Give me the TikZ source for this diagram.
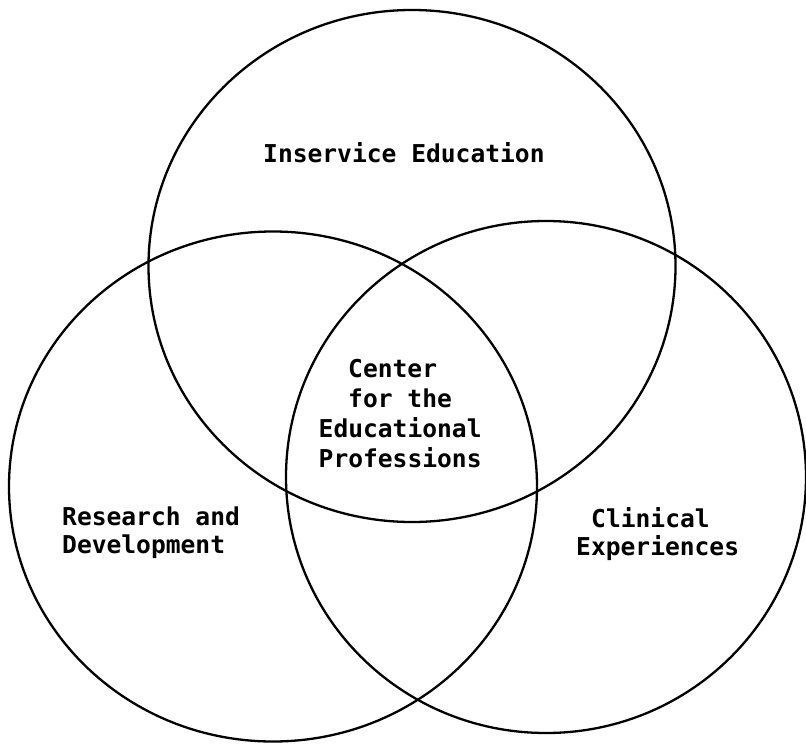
\documentclass[tikz,border=0pt]{standalone}
\usepackage{fontspec}
\setmonofont{DejaVu Sans Mono}
\usetikzlibrary{shapes.geometric}
\begin{document}
\begin{tikzpicture}[x=1pt,y=-1pt,
  ring/.style={ellipse,draw,line width=2.3pt,inner sep=0pt},
  lbl/.style={anchor=base west,inner sep=0pt,
    font=\ttfamily\bfseries\fontsize{24.6}{30}\selectfont}]
\path[use as bounding box] (0,0) rectangle (806,744);

% the three overlapping areas
\node[ring,minimum width=527pt,minimum height=512pt] (inservice) at (412,266) {};
\node[ring,minimum width=528pt,minimum height=510pt] (research) at (273,486.5) {};
\node[ring,minimum width=520pt,minimum height=512pt] (clinical) at (546,477) {};

% labels
\node[lbl] (ie) at (263,162) {Inservice Education};

\node[lbl] (c1) at (348,377) {Center};
\node[lbl] (c2) at (348,407) {for the};
\node[lbl] (c3) at (318.5,437) {Educational};
\node[lbl] (c4) at (318.5,467) {Professions};

\node[lbl] (rd1) at (62,525) {Research and};
\node[lbl] (rd2) at (62,553) {Development};

\node[lbl] (ce1) at (591,527) {Clinical};
\node[lbl] (ce2) at (576,555) {Experiences};
\end{tikzpicture}
\end{document}
